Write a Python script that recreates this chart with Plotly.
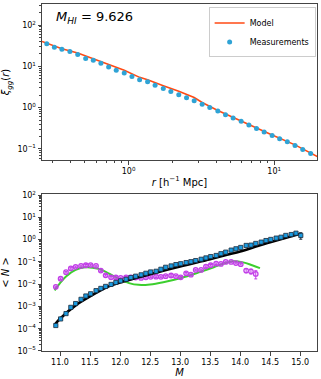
import plotly.graph_objects as go

# top panel: correlation function
r_meas = [0.274, 0.309, 0.348, 0.395, 0.447, 0.507, 0.572, 0.645, 0.729, 0.822,
          0.933, 1.054, 1.19, 1.35, 1.52, 1.73, 1.95, 2.21, 2.50, 2.82,
          3.20, 3.61, 4.10, 4.63, 5.22, 5.93, 6.70, 7.56, 8.53, 9.68,
          10.9, 12.3, 13.9, 15.7, 17.8]
xi_meas = [35, 29, 26, 23, 19.3, 15.4, 14, 11.8, 9.6, 8.0,
           6.9, 5.7, 4.7, 4.2, 3.5, 2.9, 2.45, 2.04, 1.72, 1.46,
           1.21, 1.0, 0.83, 0.675, 0.56, 0.465, 0.378, 0.313, 0.255, 0.211,
           0.175, 0.148, 0.12, 0.096, 0.077]
r_model = [0.254, 0.348, 0.447, 0.645, 0.933, 1.19, 1.35, 1.73, 2.21, 2.82,
           3.2, 4.1, 5.22, 7.56, 9.68, 13.9, 17.8, 20.0]
xi_model = [40, 26.5, 21, 13.2, 8.0, 5.4, 4.7, 3.4, 2.5, 1.75,
            1.33, 0.85, 0.58, 0.31, 0.216, 0.125, 0.077, 0.064]

# bottom panel: occupation
m_sq = [10.93, 11.01, 11.10, 11.18, 11.26, 11.35, 11.43, 11.51, 11.60, 11.68,
        11.76, 11.85, 11.93, 12.01, 12.10, 12.18, 12.26, 12.35, 12.43, 12.51,
        12.60, 12.68, 12.76, 12.85, 12.93, 13.01, 13.10, 13.18, 13.26, 13.35,
        13.43, 13.51, 13.60, 13.68, 13.76, 13.85, 13.93, 14.01, 14.10, 14.18,
        14.26, 14.35, 14.43, 14.51, 14.60, 14.68, 14.76, 14.85, 14.93, 15.01]
logn_sq = [-3.855, -3.56, -3.32, -3.04, -2.87, -2.68, -2.53, -2.43, -2.29, -2.19,
           -2.10, -2.01, -1.92, -1.85, -1.78, -1.70, -1.64, -1.58, -1.51, -1.45,
           -1.42, -1.33, -1.24, -1.18, -1.12, -1.08, -1.03, -0.99, -0.94, -0.88,
           -0.82, -0.76, -0.71, -0.63, -0.56, -0.47, -0.41, -0.35, -0.26, -0.245,
           -0.17, -0.11, -0.04, 0.01, 0.07, 0.11, 0.19, 0.23, 0.29, 0.19]
logn_circ = [-2.12, -1.75, -1.46, -1.29, -1.22, -1.18, -1.15, -1.14, -1.18, -1.39,
             -1.60, -1.69, -1.70, -1.72, -1.69, -1.70, -1.70, -1.72, -1.69, -1.67,
             -1.66, -1.67, -1.64, -1.61, -1.64, -1.69, -1.51, -1.57, -1.36, -1.36,
             -1.21, -1.15, -1.08, -1.09, -1.00, -1.00, -1.05, -1.10, -1.39, -1.42,
             -1.54]
err_circ_frac = [0.08] * 38 + [0.2, 0.25, 0.4]
m_black = [10.91, 11.0, 11.26, 11.5, 11.81, 12.0, 12.31, 12.5, 13.0, 13.5,
           13.78, 14.0, 14.33, 14.5, 15.0]
logn_black = [-3.82, -3.55, -2.95, -2.55, -2.10, -1.92, -1.69, -1.55, -1.20, -0.88,
              -0.68, -0.53, -0.25, -0.12, 0.27]
m_green = [10.91, 11.0, 11.1, 11.26, 11.42, 11.64, 11.8, 11.98, 12.15, 12.31,
           12.5, 12.72, 13.0, 13.3, 13.56, 13.75, 13.88, 14.05, 14.2, 14.33]
logn_green = [-2.28, -1.95, -1.65, -1.36, -1.24, -1.31, -1.50, -1.76, -1.95, -2.03,
              -2.01, -1.91, -1.73, -1.48, -1.24, -1.05, -0.97, -1.02, -1.15, -1.28]

n_sq = [10 ** v for v in logn_sq]
n_circ = [10 ** v for v in logn_circ]
n_black = [10 ** v for v in logn_black]
n_green = [10 ** v for v in logn_green]
err_sq = [0.0] * 49 + [0.5]
err_circ = [n * f for n, f in zip(n_circ, err_circ_frac)]

font = "DejaVu Sans, sans-serif"
axcol = "#444"

fig = go.Figure()

fig.add_trace(go.Scatter(x=r_model, y=xi_model, mode="lines", name="Model",
                         line=dict(color="#ff4a14", width=1.6),
                         xaxis="x", yaxis="y"))
fig.add_trace(go.Scatter(x=r_meas, y=xi_meas, mode="markers", name="Measurements",
                         marker=dict(color="#2fa3d5", size=5),
                         xaxis="x", yaxis="y"))

fig.add_trace(go.Scatter(x=m_green, y=n_green, mode="lines", line_shape="spline",
                         line=dict(color="#3ccf2e", width=2), showlegend=False,
                         xaxis="x2", yaxis="y2"))
fig.add_trace(go.Scatter(x=m_sq[:41], y=n_circ, mode="markers", showlegend=False,
                         marker=dict(symbol="circle-open", size=4.5, color="#c23ee8",
                                     line=dict(width=1.3)),
                         error_y=dict(type="data", array=err_circ, color="#c23ee8",
                                      thickness=1, width=1.5),
                         xaxis="x2", yaxis="y2"))
fig.add_trace(go.Scatter(x=m_black, y=n_black, mode="lines", line_shape="spline",
                         line=dict(color="black", width=2.6), showlegend=False,
                         xaxis="x2", yaxis="y2"))
fig.add_trace(go.Scatter(x=m_sq, y=n_sq, mode="markers", showlegend=False,
                         marker=dict(symbol="square", size=4.2, color="#1a9be0",
                                     line=dict(color="#1a2a3a", width=0.8)),
                         error_y=dict(type="data", array=err_sq, color="#1a2a3a",
                                      thickness=1, width=1.5),
                         xaxis="x2", yaxis="y2"))

minor_log = [m * 10 ** d for d in range(-6, 3) for m in range(2, 10)]

common = dict(showgrid=False, zeroline=False, showline=True, linecolor=axcol,
              linewidth=1, mirror=True, ticks="outside", ticklen=3.5,
              tickcolor=axcol, automargin=False,
              tickfont=dict(size=8, color="black", family=font))

fig.update_layout(
    template="none",
    width=321, height=379,
    margin=dict(l=42, r=4, t=4, b=28),
    paper_bgcolor="white", plot_bgcolor="white",
    font=dict(family=font, color="black"),
    xaxis=dict(type="log", range=[-0.595, 1.294], domain=[0, 1], anchor="y",
               tickvals=[1, 10], ticktext=["10<sup>0</sup>", "10<sup>1</sup>"],
               minor=dict(tickvals=minor_log, ticks="outside", ticklen=2,
                          tickcolor=axcol),
               title=dict(text="<i>r</i> [h<sup>−1</sup> Mpc]", font=dict(size=10),
                          standoff=3),
               **common),
    yaxis=dict(type="log", range=[-1.27, 2.51], domain=[0.5504, 1], anchor="x",
               tickvals=[0.1, 1, 10, 100],
               ticktext=["10<sup>−1</sup>", "10<sup>0</sup>", "10<sup>1</sup>",
                         "10<sup>2</sup>"],
               minor=dict(tickvals=minor_log, ticks="outside", ticklen=2,
                          tickcolor=axcol),
               title=dict(text="<i>ξ<sub>gg</sub></i>(<i>r</i>)", font=dict(size=10),
                          standoff=5),
               **common),
    xaxis2=dict(range=[10.7, 15.28], domain=[0, 1], anchor="y2",
                tickvals=[11.0, 11.5, 12.0, 12.5, 13.0, 13.5, 14.0, 14.5, 15.0],
                ticktext=["11.0", "11.5", "12.0", "12.5", "13.0", "13.5", "14.0",
                          "14.5", "15.0"],
                title=dict(text="<i>M</i>", font=dict(size=10), standoff=1),
                **common),
    yaxis2=dict(type="log", range=[-5, 2.05], domain=[0, 0.4524], anchor="x2",
                tickvals=[1e-5, 1e-4, 1e-3, 1e-2, 1e-1, 1, 10, 100],
                ticktext=["10<sup>−5</sup>", "10<sup>−4</sup>", "10<sup>−3</sup>",
                          "10<sup>−2</sup>", "10<sup>−1</sup>", "10<sup>0</sup>",
                          "10<sup>1</sup>", "10<sup>2</sup>"],
                minor=dict(tickvals=minor_log, ticks="outside", ticklen=2,
                           tickcolor=axcol),
                title=dict(text="< <i>N</i> >", font=dict(size=10), standoff=5),
                **common),
    legend=dict(x=0.995, y=0.99, xanchor="right", yanchor="top",
                bgcolor="rgba(255,255,255,0.8)", bordercolor="#ccc", borderwidth=1,
                font=dict(size=8), itemwidth=30, tracegroupgap=0),
    annotations=[dict(text="<i>M<sub>HI</sub></i> = 9.626", xref="paper",
                      yref="paper", x=0.045, y=0.962, xanchor="left",
                      yanchor="middle", showarrow=False, font=dict(size=13))],
)

# the page's default body margin would shift the figure by 8px
fig.write_html("out.html", config={"displayModeBar": False},
               post_script="document.body.style.margin='0';")
